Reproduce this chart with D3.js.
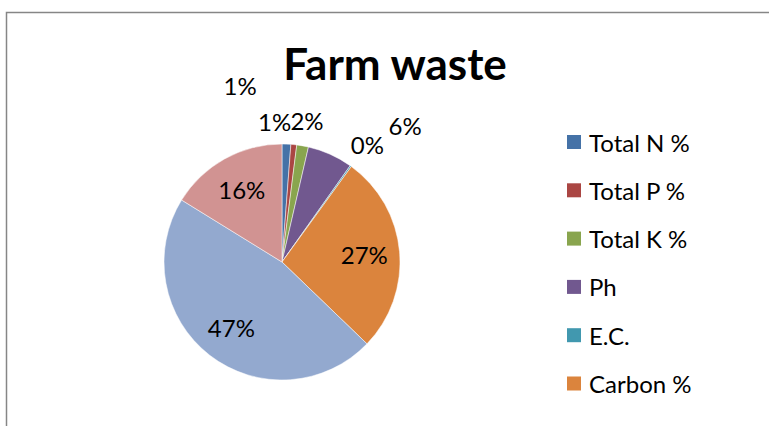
<!DOCTYPE html>
<meta charset="utf-8">
<style>
body { margin: 0; background: #fff; }
text { font-family: Lato, "Open Sans", sans-serif; fill: #000; }
</style>
<body>
<script src="https://d3js.org/d3.v7.min.js"></script>
<script>

// data
var categories = ["Total N %", "Total P %", "Total K %", "Ph", "E.C.", "Carbon %", "Moisture %", "C/N ratio"];
var values = [1.2, 0.8, 1.6, 6.2, 0.2, 27.2, 46.6, 16.2];
var colors = ["#4572A7", "#AA4643", "#89A54E", "#71588F", "#4198AF", "#DB843D", "#93A9CF", "#D19392"];

// where the small labels sit (angle in degrees clockwise from top, distance as multiple of radius)
// null = inside label at the arc centroid
var labelPlace = [[-13.3, 1.54], [-3, 1.19], [10, 1.22], [42, 1.56], [36, 1.23], null, null, null];

// the legend box only has room for the first six entries
var legendShown = 6;

var width = 769, height = 426;
var cx = 282, cy = 262, radius = 118;

var svg = d3.select("body").append("svg")
    .attr("width", width)
    .attr("height", height);

// chart frame
svg.append("rect")
    .attr("x", 6.5).attr("y", 12.5)
    .attr("width", 800).attr("height", 500)
    .attr("fill", "#fff")
    .attr("stroke", "#868686")
    .attr("stroke-width", 1.5);

// title
svg.append("text")
    .attr("x", 395).attr("y", 80)
    .attr("text-anchor", "middle")
    .style("font-size", "44px")
    .style("font-weight", "bold")
    .text("Farm waste");

var pie = d3.pie().sort(null).value(function(d) { return d; });
var arcs = pie(values);
var total = d3.sum(values);

var arc = d3.arc().innerRadius(0).outerRadius(radius);
var labelArc = d3.arc().innerRadius(radius * 0.7).outerRadius(radius * 0.7);

var g = svg.append("g")
    .attr("transform", "translate(" + cx + "," + cy + ")");

g.selectAll("path")
    .data(arcs)
  .enter().append("path")
    .attr("d", arc)
    .attr("fill", function(d, i) { return colors[i]; })
    .attr("stroke", "#fff")
    .attr("stroke-width", 0.5);

g.selectAll(".lbl")
    .data(arcs)
  .enter().append("text")
    .attr("class", "lbl")
    .attr("text-anchor", "middle")
    .attr("dominant-baseline", "central")
    .style("font-size", "24px")
    .attr("transform", function(d, i) {
      var p;
      if (labelPlace[i]) {
        var a = labelPlace[i][0] * Math.PI / 180, r = labelPlace[i][1] * radius;
        p = [Math.sin(a) * r, -Math.cos(a) * r];
      } else {
        p = labelArc.centroid(d);
      }
      return "translate(" + p[0] + "," + p[1] + ")";
    })
    .text(function(d) { return Math.round(d.value / total * 100) + "%"; });

// legend
var legend = svg.append("g")
    .attr("transform", "translate(567,142)");

var item = legend.selectAll("g")
    .data(categories.slice(0, legendShown))
  .enter().append("g")
    .attr("transform", function(d, i) { return "translate(0," + (i * 48.3) + ")"; });

item.append("rect")
    .attr("x", 0).attr("y", -7)
    .attr("width", 14).attr("height", 14)
    .attr("fill", function(d, i) { return colors[i]; });

item.append("text")
    .attr("x", 22)
    .attr("dominant-baseline", "central")
    .style("font-size", "24px")
    .text(function(d) { return d; });

</script>
</body>
